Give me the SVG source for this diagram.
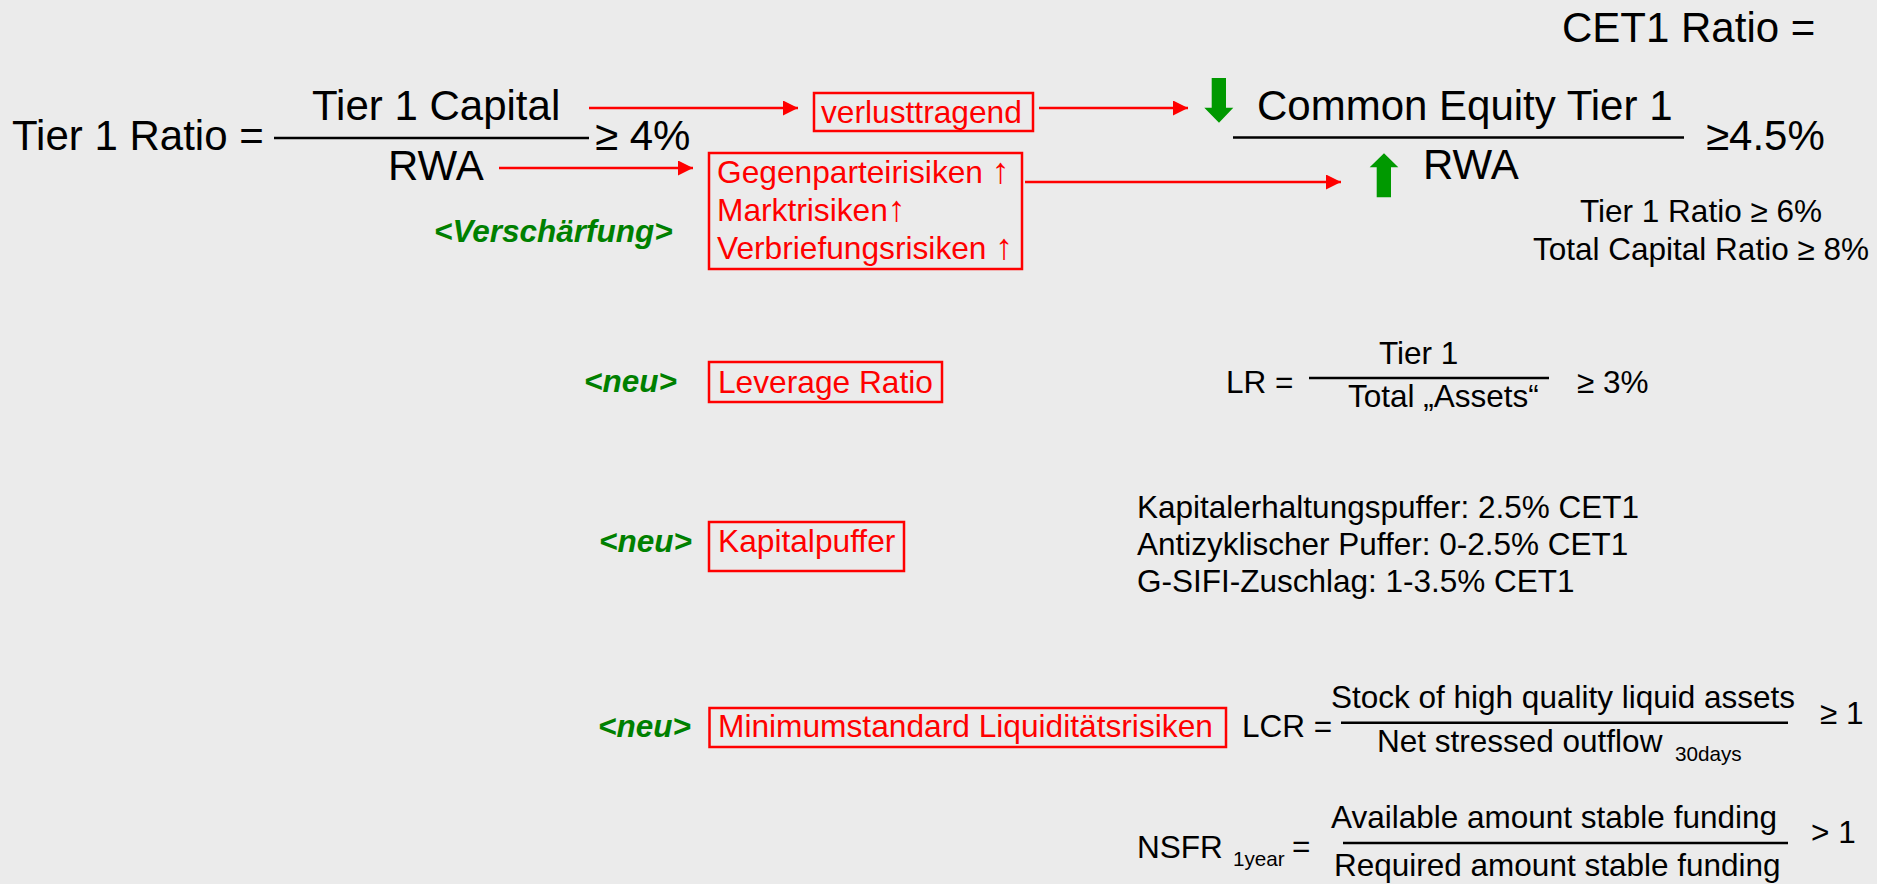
<svg xmlns="http://www.w3.org/2000/svg" width="1877" height="884" viewBox="0 0 1877 884">
<defs>
<style>
text{font-family:"Liberation Sans",Arial,sans-serif;}
.big{font-size:42px;fill:#000;}
.mid{font-size:31.5px;fill:#000;}
.red{font-size:31.7px;fill:#ff0000;}
.arr{font-size:36px;}
.grn{font-size:31.5px;fill:#008000;font-weight:bold;font-style:italic;}
.sub{font-size:20.7px;fill:#000;}
.box{fill:none;stroke:#ff0000;stroke-width:2.5;}
.frac{stroke:#000;stroke-width:2.5;}
.conn{stroke:#ff0000;stroke-width:2.5;fill:none;marker-end:url(#ah);}
.garrow{fill:#009900;}
</style>
<marker id="ah" markerUnits="userSpaceOnUse" markerWidth="16" markerHeight="16" refX="15" refY="7.5" orient="auto">
<path d="M0,0 L15,7.5 L0,15 z" fill="#ff0000"/>
</marker>
</defs>
<rect x="0" y="0" width="1877" height="884" fill="#ebebeb"/>

<g id="connectors">
<line class="conn" x1="589" y1="108" x2="798" y2="108"/>
<line class="conn" x1="1039" y1="108" x2="1188" y2="108"/>
<line class="conn" x1="499" y1="168" x2="693" y2="168"/>
<line class="conn" x1="1025" y1="182" x2="1341" y2="182"/>
</g>

<g id="tier1-ratio">
<text class="big" x="12" y="150">Tier 1 Ratio =</text>
<text class="big" x="312" y="120">Tier 1 Capital</text>
<line class="frac" x1="274" y1="138" x2="589" y2="138"/>
<text class="big" x="595" y="150">≥ 4%</text>
<text class="big" x="388" y="180">RWA</text>
</g>

<g id="verschaerfung">
<text class="grn" x="434" y="242">&lt;Verschärfung&gt;</text>
</g>

<g id="verlusttragend">
<rect class="box" x="814" y="93" width="219" height="38"/>
<text class="red" x="821" y="123">verlusttragend</text>
</g>

<g id="risiken">
<rect class="box" x="709" y="153" width="313" height="116"/>
<text class="red" x="717" y="183">Gegenparteirisiken <tspan class="arr">↑</tspan></text>
<text class="red" x="717" y="221">Marktrisiken<tspan class="arr">↑</tspan></text>
<text class="red" x="717" y="259">Verbriefungsrisiken <tspan class="arr">↑</tspan></text>
</g>

<g id="cet1-ratio">
<text class="big" x="1562" y="42">CET1 Ratio =</text>
<polygon class="garrow" points="1211.7,78 1226,78 1226,107.7 1233.3,107.7 1219,122.7 1204.3,107.7 1211.7,107.7"/>
<text class="big" x="1257" y="120">Common Equity Tier 1</text>
<line class="frac" x1="1233" y1="137.5" x2="1684" y2="137.5"/>
<text class="big" x="1706" y="150">≥4.5%</text>
<polygon class="garrow" points="1384,153.3 1398.3,167.3 1391,167.3 1391,197.3 1376.7,197.3 1376.7,167.3 1369.7,167.3"/>
<text class="big" x="1423" y="179">RWA</text>
<text class="mid" x="1701" y="222" text-anchor="middle">Tier 1 Ratio ≥ 6%</text>
<text class="mid" x="1701" y="260" text-anchor="middle">Total Capital Ratio ≥ 8%</text>
</g>

<g id="leverage">
<text class="grn" x="584" y="392">&lt;neu&gt;</text>
<rect class="box" x="709" y="362" width="233" height="40"/>
<text class="red" x="718" y="393">Leverage Ratio</text>
</g>

<g id="lr-formula">
<text class="mid" x="1226" y="393">LR =</text>
<text class="mid" x="1379" y="364">Tier 1</text>
<line class="frac" x1="1309" y1="378" x2="1549" y2="378"/>
<text class="mid" x="1348" y="407">Total „Assets“</text>
<text class="mid" x="1577" y="393">≥ 3%</text>
</g>

<g id="kapitalpuffer">
<text class="grn" x="599" y="552">&lt;neu&gt;</text>
<rect class="box" x="709" y="522" width="195" height="49"/>
<text class="red" x="718" y="552">Kapitalpuffer</text>
</g>

<g id="puffer-list">
<text class="mid" x="1137" y="518">Kapitalerhaltungspuffer: 2.5% CET1</text>
<text class="mid" x="1137" y="555">Antizyklischer Puffer: 0-2.5% CET1</text>
<text class="mid" x="1137" y="592">G-SIFI-Zuschlag: 1-3.5% CET1</text>
</g>

<g id="liquiditaet">
<text class="grn" x="598" y="737">&lt;neu&gt;</text>
<rect class="box" x="709.5" y="708" width="516.5" height="39"/>
<text class="red" x="718" y="737">Minimumstandard Liquiditätsrisiken</text>
</g>

<g id="lcr-formula">
<text class="mid" x="1242" y="737">LCR =</text>
<text class="mid" x="1331" y="708">Stock of high quality liquid assets</text>
<line class="frac" x1="1341" y1="722.7" x2="1788" y2="722.7"/>
<text class="mid" x="1377" y="752">Net stressed outflow</text>
<text class="sub" x="1675" y="761">30days</text>
<text class="mid" x="1820" y="724">≥ 1</text>
</g>

<g id="nsfr-formula">
<text class="mid" x="1137" y="858">NSFR</text>
<text class="sub" x="1233" y="866">1year</text>
<text class="mid" x="1292" y="857">=</text>
<text class="mid" x="1331" y="828">Available amount stable funding</text>
<line class="frac" x1="1343" y1="843" x2="1788" y2="843"/>
<text class="mid" x="1334" y="876">Required amount stable funding</text>
<text class="mid" x="1811" y="843">&gt; 1</text>
</g>
</svg>
